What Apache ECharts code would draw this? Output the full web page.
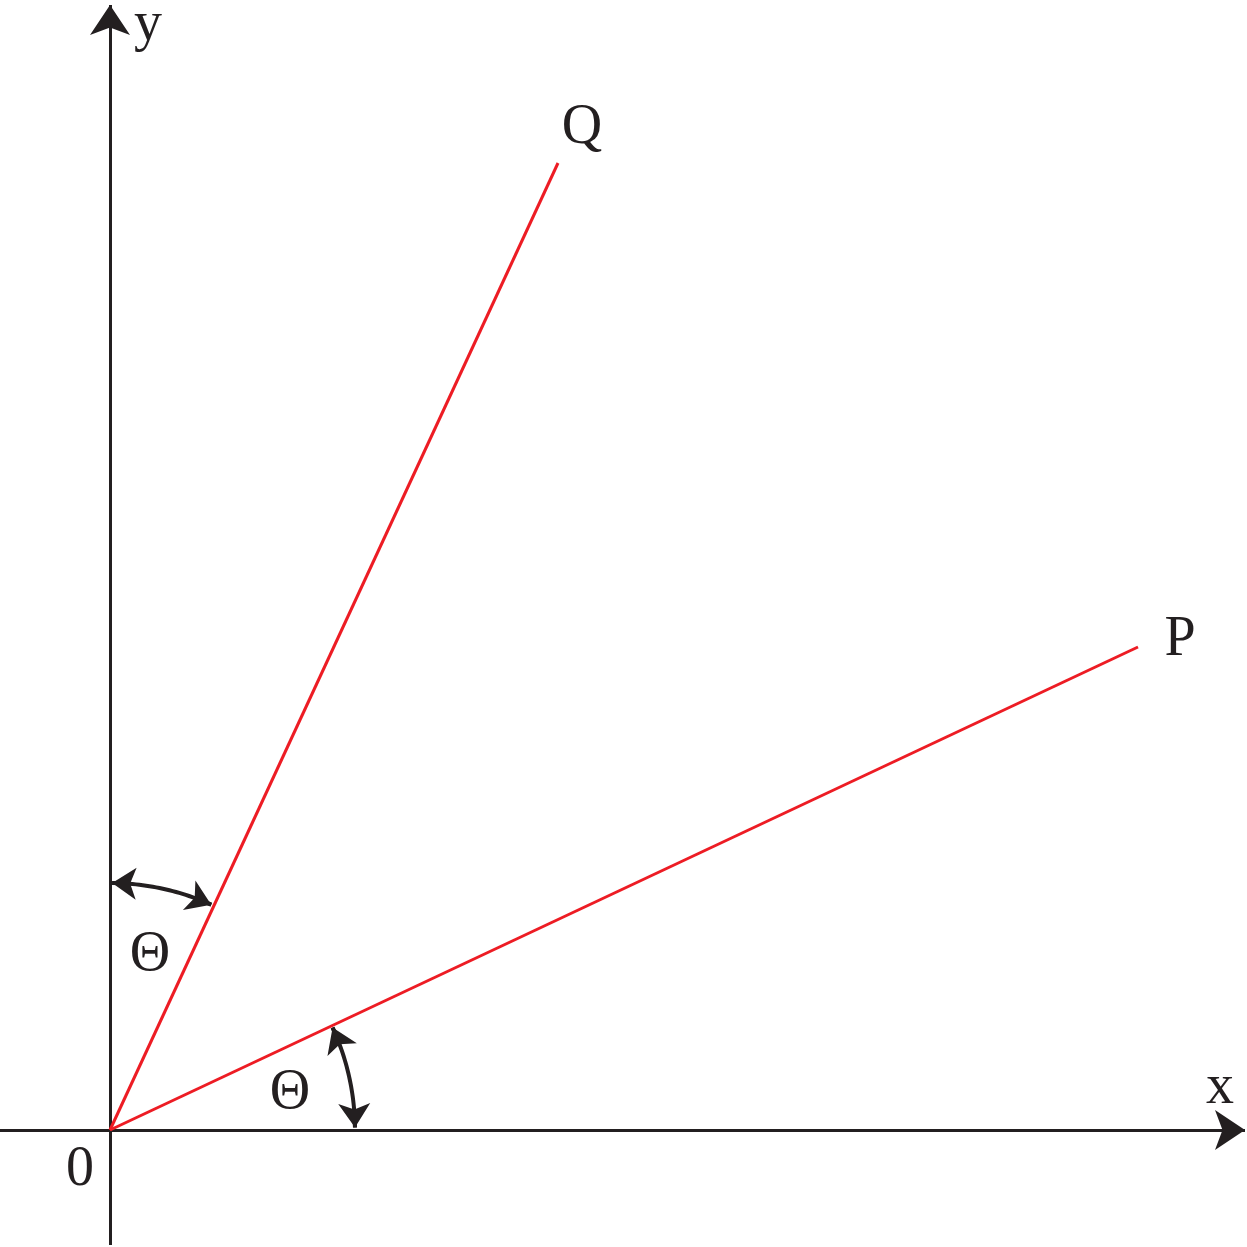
<!DOCTYPE html>
<html><head><meta charset="utf-8">
<script src="https://cdn.jsdelivr.net/npm/echarts@6/dist/echarts.min.js"></script>
<style>html,body{margin:0;padding:0;background:#fff}#c{width:1247px;height:1247px}</style>
</head><body><div id="c"></div>
<script>
// Data (origin at 0,0)
const xAxisLine = [[-110, 0], [1135, 0]];
const yAxisLine = [[0, -115], [0, 1125]];
const rayQ = [[0, 0], [448, 967]];
const rayP = [[0, 0], [1028, 483]];
const arcQ = {r: 247, fromDeg: 89.5, toDeg: 65.8};
const arcP = {r: 245, fromDeg: 24.7, toDeg: 0.6};
const labels = [
  {name: 'y', pos: [38, 1105]},
  {name: 'Q', pos: [472, 1002]},
  {name: 'P', pos: [1070, 490]},
  {name: 'x', pos: [1110, 42]},
  {name: '0', pos: [-30, -40]},
  {name: 'Θ', pos: [40, 175]},
  {name: 'Θ', pos: [180, 37]}
];
function arcPts(a) {
  const pts = [], n = 30;
  for (let i = 0; i <= n; i++) {
    const t = (a.fromDeg + (a.toDeg - a.fromDeg) * i / n) * Math.PI / 180;
    pts.push([a.r * Math.cos(t), a.r * Math.sin(t)]);
  }
  return pts;
}
const qa = arcPts(arcQ), pa = arcPts(arcP);
function ends(p) {
  const n = p.length;
  return [{coords: [p[3], p[0]]}, {coords: [p[n - 4], p[n - 1]]}];
}
const black = '#231f20', red = '#ed1c24';
const chart = echarts.init(document.getElementById('c'));
chart.setOption({
  animation: false,
  grid: {left: 0, right: 0, top: 0, bottom: 0},
  xAxis: {type: 'value', min: -110, max: 1137, show: false},
  yAxis: {type: 'value', min: -117, max: 1130, show: false},
  series: [
    {type: 'lines', coordinateSystem: 'cartesian2d', symbol: ['none', 'arrow'], symbolSize: [0, 30],
     lineStyle: {color: black, width: 3, opacity: 1},
     data: [{coords: xAxisLine}, {coords: yAxisLine}]},
    {type: 'lines', coordinateSystem: 'cartesian2d', symbol: 'none',
     lineStyle: {color: red, width: 3, opacity: 1},
     data: [{coords: rayQ}, {coords: rayP}]},
    {type: 'lines', coordinateSystem: 'cartesian2d', polyline: true, symbol: 'none',
     lineStyle: {color: black, width: 4, opacity: 1},
     data: [{coords: qa}, {coords: pa}]},
    {type: 'lines', coordinateSystem: 'cartesian2d', symbol: ['none', 'arrow'], symbolSize: [0, 24],
     lineStyle: {color: black, width: 4, opacity: 1},
     data: ends(qa).concat(ends(pa))},
    {type: 'scatter', symbolSize: 0, silent: true, itemStyle: {opacity: 1},
     data: labels.map(l => ({value: l.pos, name: l.name})),
     label: {show: true, position: 'inside', formatter: p => p.name, opacity: 1,
       fontFamily: 'Liberation Serif', fontSize: 56, color: '#231f20'}}
  ]
});
</script></body></html>
